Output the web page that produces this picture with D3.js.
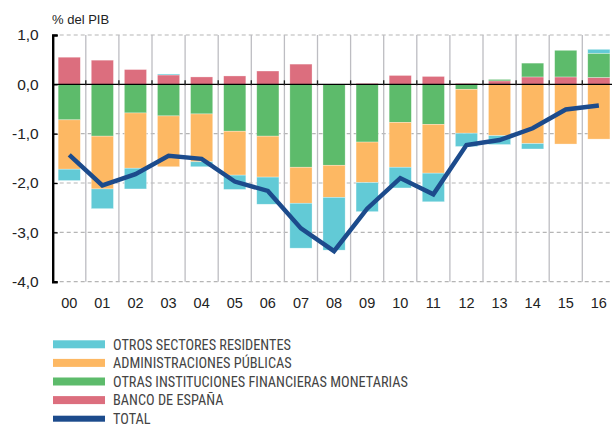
<!DOCTYPE html>
<html>
<head>
<meta charset="utf-8">
<script src="https://cdn.jsdelivr.net/npm/d3@7"></script>
<style>
  body { margin: 0; background: #fff; }
  svg text { font-family: "Liberation Sans", Arial, sans-serif; fill: #222; }
</style>
</head>
<body>
<div id="chart"></div>
<script>
// Años (categorías)
const years = ["00", "01", "02", "03", "04", "05", "06", "07", "08", "09", "10", "11", "12", "13", "14", "15", "16"];

// Series (% del PIB)
const bancoEspana = [0.55, 0.49, 0.30, 0.19, 0.15, 0.17, 0.27, 0.41, 0.00, 0.02, 0.18, 0.16, 0.02, 0.07, 0.15, 0.15, 0.14];
const otrasIFM = [-0.72, -1.05, -0.58, -0.64, -0.60, -0.95, -1.05, -1.68, -1.64, -1.17, -0.77, -0.81, -0.10, 0.03, 0.28, 0.54, 0.49];
const administraciones = [-1.00, -1.07, -1.12, -1.03, -0.97, -0.89, -0.83, -0.73, -0.65, -0.82, -0.91, -0.99, -0.89, -1.04, -1.20, -1.21, -1.11];
const otrosSectores = [-0.23, -0.40, -0.42, 0.02, -0.10, -0.29, -0.55, -0.91, -1.07, -0.59, -0.42, -0.58, -0.27, -0.18, -0.11, 0.00, 0.08];
const total = [-1.43, -2.05, -1.82, -1.45, -1.51, -1.97, -2.16, -2.92, -3.38, -2.52, -1.90, -2.23, -1.23, -1.13, -0.89, -0.51, -0.43];

const yTicks = [1, 0, -1, -2, -3, -4];

const series = [
  { name: "BANCO DE ESPAÑA", values: bancoEspana, color: "#dc6e7e" },
  { name: "OTRAS INSTITUCIONES FINANCIERAS MONETARIAS", values: otrasIFM, color: "#5dbb6b" },
  { name: "ADMINISTRACIONES PÚBLICAS", values: administraciones, color: "#fdb863" },
  { name: "OTROS SECTORES RESIDENTES", values: otrosSectores, color: "#62cad6" }
];
const legendOrder = [3, 2, 1, 0];
const lineColor = "#1c4b8c";

const width = 612, height = 426;
const plotLeft = 52.7, plotRight = 615.4, plotTop = 35, plotBottom = 281.7;

const svg = d3.select("#chart").append("svg")
  .attr("width", width)
  .attr("height", height);

const x = d3.scaleBand().domain(years).range([plotLeft, plotRight]).paddingInner(0.33).paddingOuter(0.165);
const xStep = d3.scaleBand().domain(years).range([plotLeft, plotRight]);
const y = d3.scaleLinear().domain([-4, 1]).range([plotBottom, plotTop]);

// Rejilla horizontal discontinua
svg.append("g").selectAll("line")
  .data(yTicks.filter(d => d !== 0))
  .enter().append("line")
  .attr("x1", plotLeft).attr("x2", plotRight)
  .attr("y1", d => y(d)).attr("y2", d => y(d))
  .attr("stroke", "#b5b5b5")
  .attr("stroke-width", 1.2)
  .attr("stroke-dasharray", "4,3");

// Rejilla vertical
svg.append("g").selectAll("line")
  .data(years.slice(1))
  .enter().append("line")
  .attr("x1", d => xStep(d)).attr("x2", d => xStep(d))
  .attr("y1", plotTop).attr("y2", plotBottom)
  .attr("stroke", "#bdbdc2")
  .attr("stroke-width", 1.3);

// Barras apiladas (positivas hacia arriba, negativas hacia abajo)
years.forEach((yr, i) => {
  let pos = 0, neg = 0;
  series.forEach(s => {
    const v = s.values[i];
    if (v === 0) return;
    let y0, y1;
    if (v > 0) { y0 = pos; y1 = pos + v; pos = y1; }
    else { y0 = neg; y1 = neg + v; neg = y1; }
    svg.append("rect")
      .attr("x", x(yr))
      .attr("width", x.bandwidth())
      .attr("y", y(Math.max(y0, y1)))
      .attr("height", Math.abs(y(y0) - y(y1)))
      .attr("fill", s.color)
      .attr("stroke", "#fff")
      .attr("stroke-opacity", 0.5)
      .attr("stroke-width", 0.6);
  });
});

// Línea de cero y marcas
svg.append("line")
  .attr("x1", plotLeft).attr("x2", plotRight)
  .attr("y1", y(0)).attr("y2", y(0))
  .attr("stroke", "#000").attr("stroke-width", 1.3);
svg.append("g").selectAll("line")
  .data(years.slice(1))
  .enter().append("line")
  .attr("x1", d => xStep(d)).attr("x2", d => xStep(d))
  .attr("y1", y(0) - 4).attr("y2", y(0) + 1)
  .attr("stroke", "#222").attr("stroke-width", 1.3);

// Eje Y
const yAxis = d3.axisLeft(y).tickValues(yTicks).tickSize(-5).tickPadding(14)
  .tickFormat(d => d3.format(".1f")(d).replace(".", ",").replace("−", "-"));
const gy = svg.append("g").attr("transform", `translate(${plotLeft},0)`).call(yAxis);
gy.select(".domain").attr("stroke", "#000").attr("stroke-width", 2.4);
gy.selectAll(".tick line").attr("stroke", "#000").attr("stroke-width", 1.3);
gy.selectAll(".tick text").attr("font-size", 15.5).attr("fill", "#222")
  .attr("font-family", "Liberation Sans, Arial, sans-serif");

// Eje X (etiquetas)
svg.append("g").selectAll("text")
  .data(years)
  .enter().append("text")
  .attr("x", d => x(d) + x.bandwidth() / 2)
  .attr("y", 308)
  .attr("text-anchor", "middle")
  .attr("font-size", 14.5)
  .text(d => d);

// Línea total
const line = d3.line()
  .x((d, i) => x(years[i]) + x.bandwidth() / 2)
  .y(d => y(d));
svg.append("path")
  .datum(total)
  .attr("d", line)
  .attr("fill", "none")
  .attr("stroke", lineColor)
  .attr("stroke-width", 4.5)
  .attr("stroke-linejoin", "miter");

// Título del eje
svg.append("text")
  .attr("x", 52).attr("y", 24)
  .attr("font-size", 13)
  .attr("fill", "#444")
  .text("% del PIB");

// Leyenda
const legendItems = legendOrder.map(i => ({ name: series[i].name, color: series[i].color }))
  .concat([{ name: "TOTAL", color: lineColor, line: true }]);
const lg = svg.append("g").selectAll("g")
  .data(legendItems)
  .enter().append("g")
  .attr("transform", (d, i) => `translate(53,${344.3 + i * 18.6})`);
lg.append("rect")
  .attr("x", 0).attr("y", d => d.line ? -3 : -4)
  .attr("width", 52).attr("height", d => d.line ? 6 : 8)
  .attr("fill", d => d.color);
lg.append("text")
  .attr("x", 60).attr("y", 5.3)
  .attr("font-size", 14.3)
  .style("fill", "#444")
  .style("font-family", "'Liberation Sans Narrow', 'Roboto Condensed', sans-serif")
  .text(d => d.name);
</script>
</body>
</html>
